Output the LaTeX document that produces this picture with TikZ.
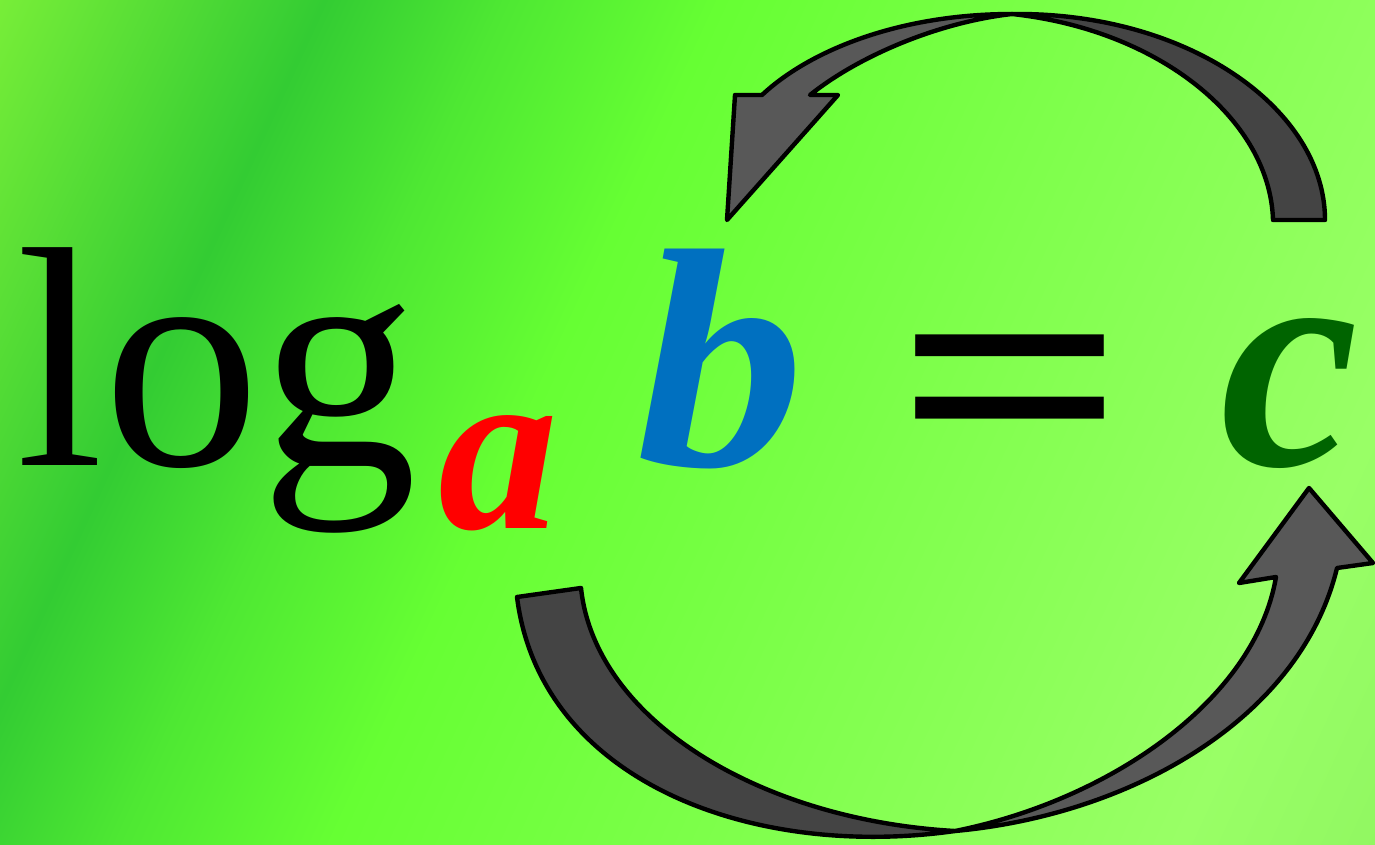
\documentclass[tikz,border=0pt]{standalone}
\usepackage{fontspec}
\setmainfont{Liberation Serif}
\usepackage{xcolor}
\usepackage{tikz}
\usetikzlibrary{positioning}
\definecolor{logred}{HTML}{FF0000}
\definecolor{logblue}{HTML}{0070C0}
\definecolor{loggreen}{HTML}{006400}
\definecolor{arrowdark}{HTML}{444444}
\definecolor{arrowlight}{HTML}{585858}
\definecolor{bgA}{HTML}{78EE38}
\definecolor{bgB}{HTML}{33CC33}
\definecolor{bgC}{HTML}{4EE833}
\definecolor{bgD}{HTML}{66FF33}
\definecolor{bgE}{HTML}{80FF4D}
\definecolor{bgF}{HTML}{99FF66}
\definecolor{bgG}{HTML}{92F862}
\definecolor{bgH}{HTML}{88EE55}
\pgfdeclarehorizontalshading{bggreen}{100bp}{color(0bp)=(bgA); color(16.7bp)=(bgA);
  color(29bp)=(bgB); color(35.8bp)=(bgC); color(43.9bp)=(bgD); color(59.5bp)=(bgE);
  color(75.8bp)=(bgF); color(82.6bp)=(bgG); color(89.5bp)=(bgH); color(100bp)=(bgH)}
\tikzset{
  ribbon/.style={draw=black, line width=2.2pt, line join=round},
  bigletter/.style={inner sep=0pt, anchor=base west,
    font=\fontsize{156}{160}\selectfont\bfseries\itshape},
}

\begin{document}
\begin{tikzpicture}[x=0.5pt, y=-0.5pt]
    \useasboundingbox (0,0) rectangle (1375,845);
    \shade[shading=bggreen, shading angle=-24.75] (0,0) rectangle (1375,845);

    % formula
    \node[inner sep=0pt, anchor=base west, font=\fontsize{157}{160}\selectfont]
      (log) at (16,465) {log};
    \node[bigletter, text=logred, font=\fontsize{120}{124}\selectfont\bfseries\itshape]
      (base) at (438,528) {a};
    \node[bigletter, text=logblue] (arg) at (636,465) {\scalebox{1.08}[1]{b}};
    \node[inner sep=0pt, anchor=base, font=\fontsize{156}{160}\selectfont\bfseries]
      (eq) at (1011,480) {\scalebox{1.3}[1]{=}};
    \node[bigletter, text=loggreen] (res) at (1220,465) {c};

    % upper arrow, c back to b
    \coordinate (topx) at (1012,14);
    \draw[ribbon, fill=arrowdark] (topx) .. controls (1190,12) and (1325,110) .. (1325,220)
      -- (1273,220) .. controls (1270,120) and (1160,30) .. (topx) -- cycle;
    \draw[ribbon, fill=arrowlight] (topx) .. controls (900,14) and (810,50) .. (762,95)
      -- (735,95) -- (727,220) -- (838,95) -- (810,95)
      .. controls (860,55) and (940,22) .. (topx) -- cycle;

    % lower arrow, a over to c
    \coordinate (botx) at (955,831);
    \draw[ribbon, fill=arrowdark] (517,597) .. controls (540,780) and (750,860) .. (botx)
      .. controls (760,820) and (595,720) .. (581,588) -- cycle;
    \draw[ribbon, fill=arrowlight] (botx) .. controls (1130,815) and (1300,720) .. (1337,568)
      -- (1373,563) -- (1309,488) -- (1239,583) -- (1276,577)
      .. controls (1255,700) and (1110,800) .. (botx) -- cycle;
\end{tikzpicture}
\end{document}
